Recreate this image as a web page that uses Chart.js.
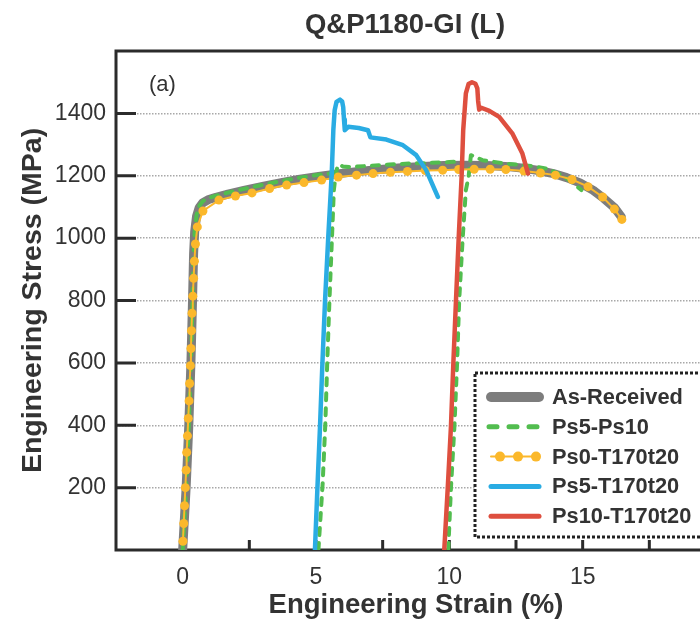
<!DOCTYPE html>
<html>
<head>
<meta charset="utf-8">
<title>Q&amp;P1180-GI (L)</title>
<script src="https://cdn.jsdelivr.net/npm/chart.js@4.4.1/dist/chart.umd.min.js"></script>
<style>
  html, body { margin: 0; padding: 0; background: #fff; overflow: hidden; }
  #wrap { width: 700px; height: 622px; overflow: hidden; }
  canvas { display: block; }
</style>
</head>
<body>
<div id="wrap"><canvas id="stressChart" width="730" height="622"></canvas></div>
<script>
// values: strain in %, stress in MPa
const chartTitle = 'Q&P1180-GI (L)';
const panelLabel = '(a)';
const seriesNames = ['As-Received', 'Ps5-Ps10', 'Ps0-T170t20', 'Ps5-T170t20', 'Ps10-T170t20'];
const xTickValues = [0, 5, 10, 15];
const yTickValues = [200, 400, 600, 800, 1000, 1200, 1400];

const asReceivedStrain = [0, 0.13, 0.23, 0.31, 0.37, 0.41, 0.45, 0.52, 0.62, 0.75, 0.95, 1.25, 1.7, 2.3, 3.0, 3.7, 4.4, 5.1, 5.8, 6.6, 7.4, 8.2, 9.0, 9.8, 10.6, 11.4, 12.1, 12.8, 13.4, 13.9, 14.4, 14.9, 15.4, 15.8, 16.2, 16.45];
const asReceivedStress = [0, 200, 400, 600, 800, 950, 1020, 1070, 1098, 1113, 1123, 1131, 1141, 1153, 1166, 1178, 1189, 1198, 1206, 1214, 1220, 1226, 1230, 1233, 1234, 1233, 1230, 1224, 1216, 1207, 1194, 1177, 1153, 1127, 1097, 1068];

// three loadings, broken by nulls
const ps5ps10Strain = [0, 0.13, 0.23, 0.31, 0.37, 0.41, 0.45, 0.52, 0.62, 0.75, 0.95, 1.25, 1.7, 2.3, 3.0, 3.7, 4.4, 5.1, 5.5,
  null,
  5.09, 5.25, 5.35, 5.42, 5.50, 5.59, 5.67, 5.74, 5.80, 5.88, 6.0, 6.27, 7.01, 7.76, 8.51, 9.25, 10.0, 10.45,
  null,
  9.96, 10.06, 10.19, 10.29, 10.37, 10.5, 10.62, 10.72, 10.81, 10.95, 11.24, 12.11, 13.11, 13.61, 14.1, 14.6, 14.95];
const ps5ps10Stress = [0, 200, 400, 600, 800, 950, 1022, 1074, 1103, 1118, 1128, 1136, 1146, 1158, 1171, 1183, 1194, 1203, 1207,
  null,
  0, 214, 406, 598, 791, 983, 1154, 1205, 1228, 1236, 1230, 1228, 1232, 1236, 1239, 1241, 1244, 1246,
  null,
  0, 198, 395, 598, 801, 999, 1154, 1196, 1266, 1262, 1250, 1239, 1231, 1223, 1207, 1180, 1154];

const ps0Strain = [0.01, 0.04, 0.07, 0.10, 0.13, 0.15, 0.18, 0.21, 0.24, 0.26, 0.29, 0.31, 0.33, 0.35, 0.38, 0.41, 0.44, 0.48, 0.55, 0.76, 1.36, 1.98, 2.60, 3.26, 3.90, 4.55, 5.21, 5.83, 6.52, 7.14, 7.79, 8.43, 9.10, 9.75, 10.35, 10.93, 11.53, 12.12, 12.80, 13.42, 13.98, 14.60, 15.20, 15.75, 16.19, 16.47];
const ps0Stress = [28, 85, 142, 200, 256, 313, 366, 422, 478, 534, 591, 646, 703, 759, 814, 871, 926, 981, 1036, 1087, 1122, 1135, 1145, 1159, 1170, 1178, 1186, 1196, 1202, 1207, 1211, 1214, 1217, 1218, 1220, 1221, 1221, 1220, 1215, 1209, 1202, 1188, 1165, 1132, 1093, 1060];

const ps5Strain = [4.96, 5.05, 5.15, 5.24, 5.34, 5.46, 5.59, 5.65, 5.70, 5.77, 5.90, 5.98, 6.02, 6.05, 6.08, 6.21, 6.6, 6.95, 7.04, 7.64, 8.26, 8.76, 9.13, 9.57];
const ps5Stress = [0, 192, 395, 598, 801, 1004, 1207, 1346, 1410, 1437, 1444, 1438, 1420, 1380, 1346, 1357, 1353, 1346, 1323, 1316, 1298, 1266, 1218, 1132];

const ps10Strain = [9.81, 9.94, 10.06, 10.15, 10.25, 10.35, 10.46, 10.52, 10.62, 10.72, 10.85, 10.98, 11.05, 11.08, 11.12, 11.2, 11.5, 11.87, 12.36, 12.74, 12.95];
const ps10Stress = [0, 198, 395, 598, 801, 999, 1196, 1346, 1464, 1494, 1500, 1495, 1480, 1440, 1412, 1418, 1408, 1389, 1336, 1271, 1207];

const colors = ['#7d7d7d', '#52bd4f', '#fbb82b', '#2aace3', '#de4f3f'];
const fontFamily = "'Liberation Sans', Arial, Helvetica, sans-serif";
const axisColor = '#2b2b2b';

function toPoints(xs, ys) {
    return xs.map((x, i) => ({ x: x, y: ys[i] }));
}

// draws the frame and the inward tick marks, under the curves
const framePlugin = {
    id: 'frame',
    beforeDatasetsDraw(chart) {
        const { ctx, chartArea: a, scales } = chart;
        ctx.save();
        ctx.strokeStyle = axisColor;
        ctx.lineWidth = 3;
        ctx.beginPath();
        scales.y.ticks.forEach(t => {
            if (t.value <= scales.y.min || t.value >= scales.y.max) return;
            const py = scales.y.getPixelForValue(t.value);
            ctx.moveTo(a.left, py);
            ctx.lineTo(a.left + 20, py);
        });
        scales.x.ticks.forEach(t => {
            if (t.value <= scales.x.min || t.value >= scales.x.max) return;
            const px = scales.x.getPixelForValue(t.value);
            ctx.moveTo(px, a.bottom);
            ctx.lineTo(px, a.bottom - 10);
        });
        ctx.stroke();
        ctx.strokeRect(a.left, a.top, a.right - a.left, a.bottom - a.top);
        ctx.restore();
    },
    afterDraw(chart) {
        const { ctx, chartArea: a } = chart;
        ctx.save();
        // title and panel label
        ctx.fillStyle = '#333';
        ctx.textAlign = 'center';
        ctx.textBaseline = 'alphabetic';
        ctx.font = 'bold 27.5px ' + fontFamily;
        ctx.fillText(chartTitle, 405, 33);
        ctx.textAlign = 'left';
        ctx.font = '22px ' + fontFamily;
        ctx.fillText(panelLabel, a.left + 33, 91);

        // legend box with dotted border
        const box = { left: 475, top: 373, right: a.right - 8, bottom: 537 };
        ctx.fillStyle = '#fff';
        ctx.fillRect(box.left, box.top, box.right - box.left, box.bottom - box.top);
        ctx.strokeStyle = '#222';
        ctx.lineWidth = 3;
        ctx.setLineDash([3, 2]);
        ctx.strokeRect(box.left, box.top, box.right - box.left, box.bottom - box.top);
        ctx.setLineDash([]);

        chart.data.datasets.forEach((ds, i) => {
            const y = 397 + i * 29.8;
            const x0 = box.left + 14, x1 = box.left + 64;
            ctx.strokeStyle = ds.borderColor;
            ctx.lineCap = 'round';
            ctx.lineWidth = i === 0 ? 10 : (i === 2 ? 2 : 5);
            if (i === 1) ctx.setLineDash([8, 12]);
            ctx.beginPath();
            ctx.moveTo(x0 + (i === 1 ? 0 : 2), y);
            ctx.lineTo(x1, y);
            ctx.stroke();
            ctx.setLineDash([]);
            if (i === 2) {
                ctx.fillStyle = ds.pointBackgroundColor;
                [x0 + 11, x0 + 29, x0 + 47].forEach(px => {
                    ctx.beginPath();
                    ctx.arc(px, y, 5, 0, Math.PI * 2);
                    ctx.fill();
                });
            }
            ctx.fillStyle = '#333';
            ctx.font = 'bold 21.8px ' + fontFamily;
            ctx.textBaseline = 'middle';
            ctx.fillText(ds.label, box.left + 77, y + 1);
        });
        ctx.restore();
    }
};

document.addEventListener('DOMContentLoaded', function() {
    Chart.defaults.font.family = fontFamily;
    const ctx = document.getElementById('stressChart').getContext('2d');
    new Chart(ctx, {
        type: 'line',
        data: {
            datasets: [{
                label: seriesNames[0],
                data: toPoints(asReceivedStrain, asReceivedStress),
                borderColor: colors[0],
                borderWidth: 9,
                borderCapStyle: 'round',
                borderJoinStyle: 'round',
                pointRadius: 0,
                order: 5
            }, {
                label: seriesNames[1],
                data: toPoints(ps5ps10Strain, ps5ps10Stress),
                borderColor: colors[1],
                borderWidth: 4,
                borderDash: [7, 8],
                borderCapStyle: 'round',
                borderJoinStyle: 'round',
                pointRadius: 0,
                spanGaps: false,
                order: 4
            }, {
                label: seriesNames[2],
                data: toPoints(ps0Strain, ps0Stress),
                borderColor: colors[2],
                borderWidth: 2,
                pointRadius: 4.5,
                pointBorderWidth: 0,
                pointBackgroundColor: colors[2],
                order: 3
            }, {
                label: seriesNames[3],
                data: toPoints(ps5Strain, ps5Stress),
                borderColor: colors[3],
                borderWidth: 4.5,
                borderCapStyle: 'round',
                borderJoinStyle: 'round',
                pointRadius: 0,
                order: 2
            }, {
                label: seriesNames[4],
                data: toPoints(ps10Strain, ps10Stress),
                borderColor: colors[4],
                borderWidth: 4.5,
                borderCapStyle: 'round',
                borderJoinStyle: 'round',
                pointRadius: 0,
                order: 1
            }]
        },
        options: {
            responsive: false,
            animation: false,
            devicePixelRatio: 1,
            layout: { padding: { top: 51, right: 11, left: 0, bottom: 0 } },
            plugins: { legend: { display: false }, tooltip: { enabled: false }, title: { display: false } },
            scales: {
                x: {
                    type: 'linear',
                    min: -2.5,
                    max: 20,
                    ticks: {
                        stepSize: 2.5,
                        autoSkip: false,
                        maxRotation: 0,
                        padding: 14,
                        color: '#333',
                        font: { size: 23 },
                        callback: v => xTickValues.includes(v) ? String(v) : ''
                    },
                    grid: { display: false, drawTicks: false },
                    border: { display: false },
                    title: {
                        display: true,
                        text: 'Engineering Strain (%)',
                        color: '#333',
                        font: { size: 27.5, weight: 'bold', lineHeight: 1.2 },
                        padding: { top: 0, bottom: 0 }
                    },
                    afterFit: s => { s.height = 72; }
                },
                y: {
                    type: 'linear',
                    min: 0,
                    max: 1600,
                    ticks: {
                        stepSize: 200,
                        padding: 10,
                        color: '#333',
                        font: { size: 23 },
                        callback: v => yTickValues.includes(v) ? String(v) : ''
                    },
                    grid: {
                        drawTicks: false,
                        lineWidth: 1.5,
                        color: c => (c.tick && yTickValues.includes(c.tick.value)) ? '#a8a8a8' : 'rgba(0,0,0,0)'
                    },
                    border: { display: false, dash: [1.5, 1.5] },
                    title: {
                        display: true,
                        text: 'Engineering Stress (MPa)',
                        color: '#333',
                        font: { size: 28.5, weight: 'bold', lineHeight: 1.2 },
                        padding: { top: 16, bottom: 0 }
                    },
                    afterFit: s => { s.width = 116; }
                }
            }
        },
        plugins: [framePlugin]
    });
});
</script>
</body>
</html>
